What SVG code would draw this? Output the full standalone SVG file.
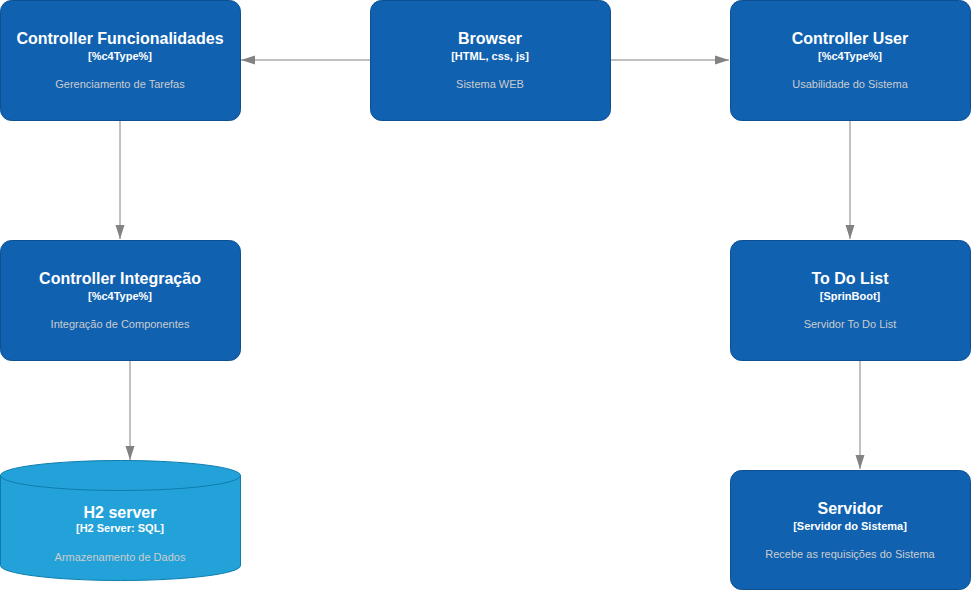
<svg xmlns="http://www.w3.org/2000/svg" width="971" height="591" viewBox="0 0 971 591">
  <style>
    .box { fill: #1061B0; stroke: #0D5091; stroke-width: 1; }
    .db { fill: #23A2D9; stroke: #0E7DAD; stroke-width: 1; }
    text { font-family: "Liberation Sans", Arial, sans-serif; text-anchor: middle; fill: #ffffff; }
    .name { font-size: 16px; font-weight: bold; }
    .tech { font-size: 11px; font-weight: bold; }
    .desc { font-size: 11px; fill: #cccccc; }
    .edge { fill: none; stroke: #828282; stroke-width: 1; }
  </style>
  <defs>
    <marker id="arrow" viewBox="0 0 14 10" refX="14" refY="5" markerWidth="14" markerHeight="10" markerUnits="userSpaceOnUse" orient="auto">
      <path d="M0,0.5 L14,5 L0,9.5 Z" fill="#828282"/>
    </marker>
  </defs>

  <g id="connectors">
    <path class="edge" d="M370,60 H241" marker-end="url(#arrow)"/>
    <path class="edge" d="M610,60 H729" marker-end="url(#arrow)"/>
    <path class="edge" d="M120,120 V239" marker-end="url(#arrow)"/>
    <path class="edge" d="M850,120 V239" marker-end="url(#arrow)"/>
    <path class="edge" d="M130,360 V460" marker-end="url(#arrow)"/>
    <path class="edge" d="M860,360 V469" marker-end="url(#arrow)"/>
  </g>

  <g id="controller-funcionalidades">
    <rect class="box" x="0.5" y="0.5" width="240" height="120" rx="11"/>
    <text class="name" x="120" y="44">Controller Funcionalidades</text>
    <text class="tech" x="120" y="60">[%c4Type%]</text>
    <text class="desc" x="120" y="88">Gerenciamento de Tarefas</text>
  </g>

  <g id="browser">
    <rect class="box" x="370.5" y="0.5" width="240" height="120" rx="11"/>
    <text class="name" x="490" y="44">Browser</text>
    <text class="tech" x="490" y="60">[HTML, css, js]</text>
    <text class="desc" x="490" y="88">Sistema WEB</text>
  </g>

  <g id="controller-user">
    <rect class="box" x="730.5" y="0.5" width="240" height="120" rx="11"/>
    <text class="name" x="850" y="44">Controller User</text>
    <text class="tech" x="850" y="60">[%c4Type%]</text>
    <text class="desc" x="850" y="88">Usabilidade do Sistema</text>
  </g>

  <g id="controller-integracao">
    <rect class="box" x="0.5" y="240.5" width="240" height="120" rx="11"/>
    <text class="name" x="120" y="284">Controller Integração</text>
    <text class="tech" x="120" y="300">[%c4Type%]</text>
    <text class="desc" x="120" y="328">Integração de Componentes</text>
  </g>

  <g id="todo-list">
    <rect class="box" x="730.5" y="240.5" width="240" height="120" rx="11"/>
    <text class="name" x="850" y="284">To Do List</text>
    <text class="tech" x="850" y="300">[SprinBoot]</text>
    <text class="desc" x="850" y="328">Servidor To Do List</text>
  </g>

  <g id="h2-server">
    <path class="db" d="M0.5,475.5 A120,15 0 0 1 240.5,475.5 V565.5 A120,15 0 0 1 0.5,565.5 Z"/>
    <path class="db" d="M0.5,475.5 A120,15 0 0 0 240.5,475.5" fill="none"/>
    <text class="name" x="120" y="518">H2 server</text>
    <text class="tech" x="120" y="532">[H2 Server: SQL]</text>
    <text class="desc" x="120" y="561">Armazenamento de Dados</text>
  </g>

  <g id="servidor">
    <rect class="box" x="730.5" y="470.5" width="240" height="119" rx="11"/>
    <text class="name" x="850" y="514">Servidor</text>
    <text class="tech" x="850" y="530">[Servidor do Sistema]</text>
    <text class="desc" x="850" y="558">Recebe as requisições do Sistema</text>
  </g>
</svg>
